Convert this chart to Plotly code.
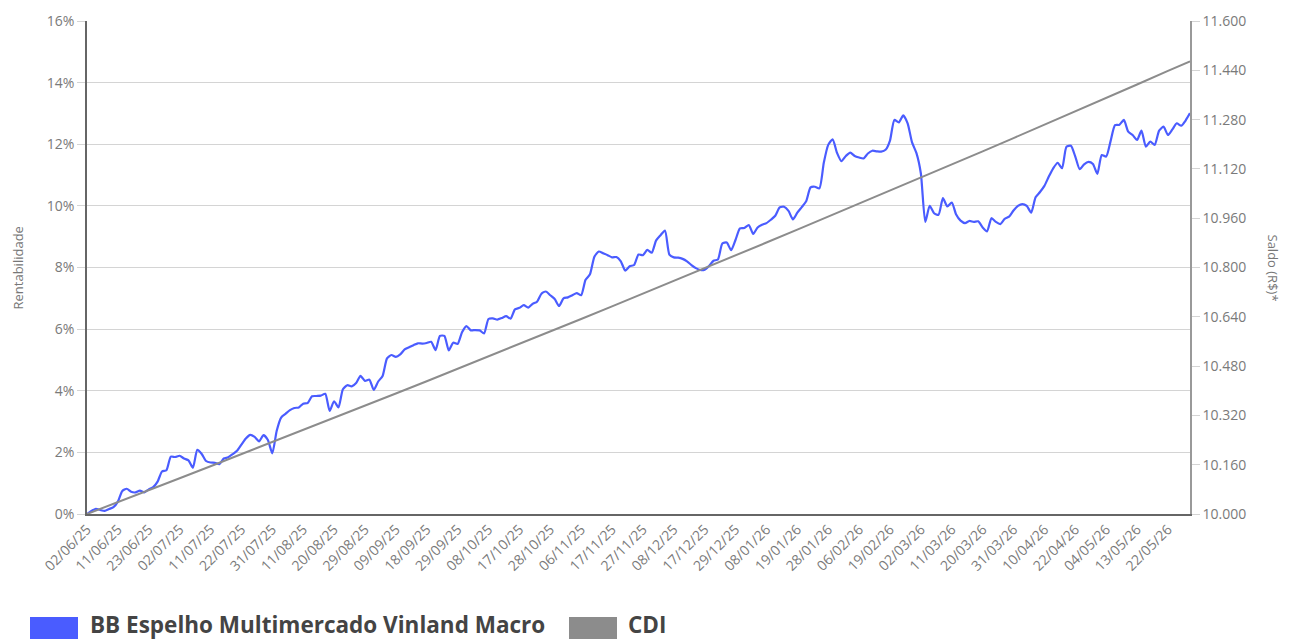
import pandas as pd
import plotly.graph_objects as go

# ---------------- data ----------------
START_DATE = "2025-06-02"
END_DATE = "2026-05-29"
HOLIDAYS = ["2025-06-19", "2025-11-20", "2025-12-25", "2026-01-01", "2026-02-16",
            "2026-02-17", "2026-04-03", "2026-04-21", "2026-05-01"]

TICK_LABELS = ["02/06/25", "11/06/25", "23/06/25", "02/07/25", "11/07/25", "22/07/25",
               "31/07/25", "11/08/25", "20/08/25", "29/08/25", "09/09/25", "18/09/25",
               "29/09/25", "08/10/25", "17/10/25", "28/10/25", "06/11/25", "17/11/25",
               "27/11/25", "08/12/25", "17/12/25", "29/12/25", "08/01/26", "19/01/26",
               "28/01/26", "06/02/26", "19/02/26", "02/03/26", "11/03/26", "20/03/26",
               "31/03/26", "10/04/26", "22/04/26", "04/05/26", "13/05/26", "22/05/26"]

FUND_NAME = "BB Espelho Multimercado Vinland Macro"
FUND = [
    0.00, 0.10, 0.17, 0.13, 0.10, 0.16, 0.22, 0.40, 0.75, 0.82,
    0.72, 0.70, 0.76, 0.70, 0.80, 0.87, 1.05, 1.38, 1.42, 1.86,
    1.85, 1.89, 1.80, 1.74, 1.50, 2.08, 1.95, 1.72, 1.67, 1.66,
    1.62, 1.80, 1.84, 1.94, 2.05, 2.25, 2.45, 2.57, 2.50, 2.36,
    2.56, 2.40, 1.97, 2.70, 3.13, 3.25, 3.37, 3.44, 3.46, 3.58,
    3.60, 3.82, 3.83, 3.84, 3.90, 3.35, 3.66, 3.46, 4.05, 4.18,
    4.14, 4.25, 4.48, 4.32, 4.36, 4.03, 4.30, 4.48, 5.05, 5.16,
    5.10, 5.18, 5.34, 5.41, 5.48, 5.54, 5.53, 5.55, 5.59, 5.32,
    5.78, 5.78, 5.31, 5.56, 5.52, 5.90, 6.10, 5.96, 5.97, 5.96,
    5.86, 6.33, 6.35, 6.31, 6.36, 6.42, 6.34, 6.64, 6.69, 6.78,
    6.70, 6.82, 6.89, 7.15, 7.22, 7.10, 6.98, 6.75, 7.00, 7.03,
    7.10, 7.17, 7.10, 7.60, 7.78, 8.35, 8.52, 8.46, 8.40, 8.33,
    8.34, 8.20, 7.90, 8.04, 8.08, 8.42, 8.40, 8.57, 8.48, 8.88,
    9.05, 9.20, 8.42, 8.33, 8.32, 8.28, 8.20, 8.08, 7.98, 7.92,
    7.93, 8.05, 8.22, 8.26, 8.78, 8.81, 8.56, 8.90, 9.27, 9.28,
    9.38, 9.09, 9.30, 9.39, 9.44, 9.55, 9.68, 9.95, 9.97, 9.84,
    9.56, 9.78, 9.96, 10.15, 10.60, 10.62, 10.57, 11.40, 11.98, 12.16,
    11.72, 11.45, 11.62, 11.73, 11.62, 11.57, 11.54, 11.70, 11.79, 11.77,
    11.76, 11.82, 12.12, 12.79, 12.71, 12.94, 12.68, 12.06, 11.71, 11.05,
    9.48, 10.00, 9.76, 9.71, 10.25, 9.98, 10.11, 9.72, 9.52, 9.44,
    9.51, 9.48, 9.50, 9.30, 9.17, 9.60, 9.48, 9.41, 9.58, 9.65,
    9.85, 10.00, 10.06, 10.00, 9.78, 10.28, 10.45, 10.65, 10.95, 11.22,
    11.40, 11.22, 11.92, 11.95, 11.60, 11.19, 11.35, 11.43, 11.36, 11.04,
    11.65, 11.60, 12.10, 12.62, 12.63, 12.79, 12.41, 12.30, 12.14, 12.44,
    11.92, 12.09, 11.98, 12.44, 12.57, 12.30, 12.48, 12.68, 12.60, 12.77,
    13.01,
]

CDI_NAME = "CDI"
CDI_DATES = TICK_LABELS + ["29/05/26"]
CDI = [0.00, 0.38, 0.77, 1.16, 1.55, 1.94, 2.33, 2.72, 3.12, 3.51, 3.91, 4.31,
       4.71, 5.12, 5.52, 5.93, 6.33, 6.74, 7.15, 7.56, 7.98, 8.39, 8.81, 9.23,
       9.65, 10.07, 10.49, 10.92, 11.34, 11.77, 12.20, 12.63, 13.07, 13.50,
       13.94, 14.38, 14.69]

SALDO_RANGE = [10000, 11600]
SALDO_STEP = 160

# ---------------- build ----------------
days = pd.bdate_range(START_DATE, END_DATE, freq="C", holidays=HOLIDAYS)
DATES = [d.strftime("%d/%m/%y") for d in days]
n = min(len(DATES), len(FUND))
DATES, FUND = DATES[:n], FUND[:n]

BLUE = "#4a5cff"
GRAY = "#8c8c8c"
FONT = "Open Sans"

# the page has an 8px body margin; figure sized to fit the 1289x639 window
OFF = 8
FIG_W, FIG_H = 1289 - OFF, 639 - OFF
PLOT_L, PLOT_R, PLOT_T, PLOT_B = 87, 1190, 21, 514  # page pixels

fig = go.Figure()
fig.add_trace(go.Scatter(x=DATES, y=FUND, mode="lines", name=FUND_NAME,
                         line=dict(color=BLUE, width=2.2, shape="spline", smoothing=0.6),
                         showlegend=False))
fig.add_trace(go.Scatter(x=CDI_DATES, y=CDI, mode="lines", name=CDI_NAME,
                         line=dict(color=GRAY, width=2), showlegend=False))
fig.add_trace(go.Scatter(x=[DATES[0]], y=[SALDO_RANGE[0]], yaxis="y2", mode="lines",
                         line=dict(width=0), hoverinfo="skip", showlegend=False))

fig.update_layout(
    width=FIG_W, height=FIG_H,
    margin=dict(l=PLOT_L - OFF, r=FIG_W - (PLOT_R - OFF), t=PLOT_T - OFF,
                b=FIG_H - (PLOT_B - OFF), pad=0, autoexpand=False),
    paper_bgcolor="white", plot_bgcolor="white",
    separators=",.",
    font=dict(family=FONT, size=14, color="#777"),
    xaxis=dict(type="category", categoryorder="array", categoryarray=DATES,
               range=[0, len(DATES) - 1], tickmode="array", tickvals=TICK_LABELS,
               ticktext=TICK_LABELS, tickangle=-45, showgrid=False, automargin=False,
               showline=True, linecolor="#666", linewidth=1.5, ticks="",
               tickfont=dict(size=14, color="#7a7a7a"), zeroline=False),
    yaxis=dict(range=[0, 16], dtick=2, ticksuffix="%", showgrid=True, automargin=False,
               gridcolor="#d4d4d4", gridwidth=1, zeroline=False,
               showline=True, linecolor="#666", linewidth=1.5,
               ticks="outside", ticklen=8, tickcolor="#d4d4d4",
               tickfont=dict(size=14, color="#7a7a7a")),
    yaxis2=dict(range=SALDO_RANGE, dtick=SALDO_STEP, tick0=SALDO_RANGE[0],
                tickformat=",d", overlaying="y", side="right", showgrid=False,
                automargin=False,
                zeroline=False, showline=True, linecolor="#999", linewidth=1.5,
                ticks="outside", ticklen=8, tickcolor="#d4d4d4",
                tickfont=dict(size=14, color="#7a7a7a")),
)

W = float(PLOT_R - PLOT_L)
H = float(PLOT_B - PLOT_T)
def px(x):
    return (x - PLOT_L) / W
def py(y):
    return (PLOT_B - y) / H

fig.add_annotation(text="Rentabilidade", xref="paper", yref="paper", x=px(17), y=0.5,
                   xanchor="center", yanchor="middle",
                   textangle=-90, showarrow=False, font=dict(size=13, color="#777"))
fig.add_annotation(text="Saldo (R$)*", xref="paper", yref="paper", x=px(1273), y=0.5,
                   xanchor="center", yanchor="middle",
                   textangle=90, showarrow=False, font=dict(size=13, color="#777"))

# legend
fig.add_shape(type="rect", xref="paper", yref="paper", x0=px(30), x1=px(78),
              y0=py(640), y1=py(617), fillcolor=BLUE, line=dict(width=0))
fig.add_shape(type="rect", xref="paper", yref="paper", x0=px(569), x1=px(617),
              y0=py(640), y1=py(617), fillcolor=GRAY, line=dict(width=0))
fig.add_annotation(text="<b>" + FUND_NAME + "</b>", xref="paper", yref="paper",
                   x=px(88), y=py(624), xanchor="left", yanchor="middle", showarrow=False,
                   font=dict(size=22.5, color="#444"))
fig.add_annotation(text="<b>" + CDI_NAME + "</b>", xref="paper", yref="paper",
                   x=px(626), y=py(624), xanchor="left", yanchor="middle", showarrow=False,
                   font=dict(size=22.5, color="#444"))

fig.write_html("out.html")
